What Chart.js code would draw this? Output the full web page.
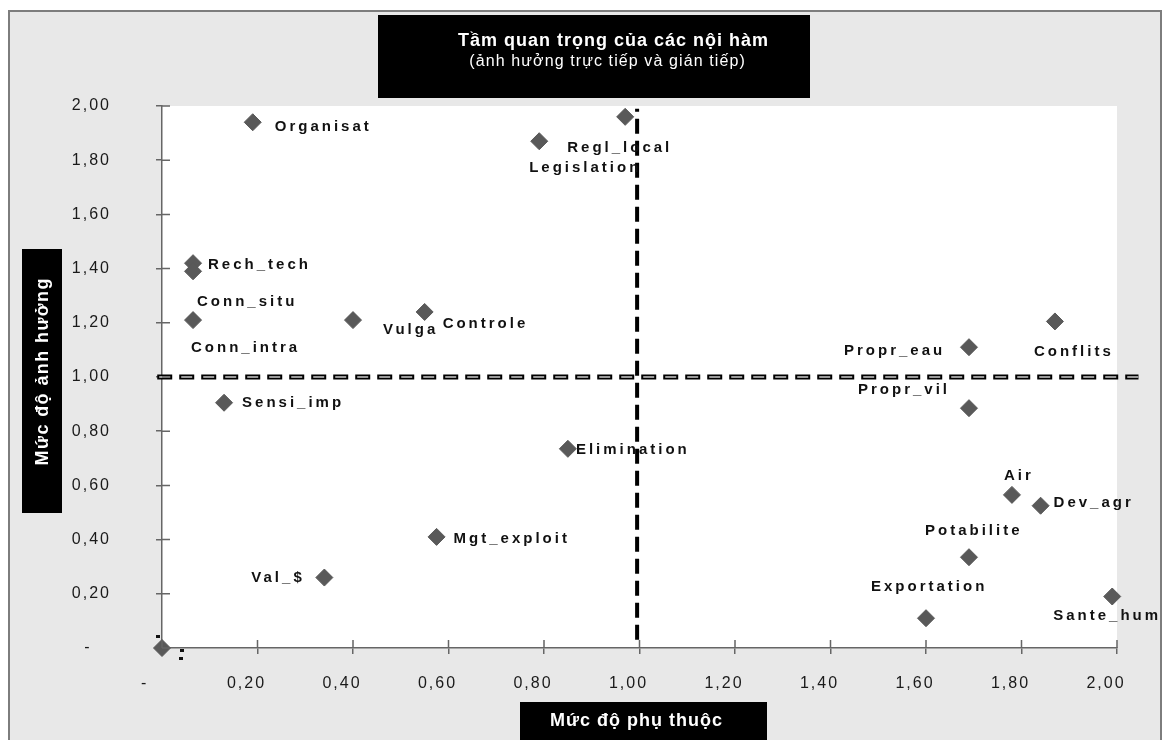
<!DOCTYPE html>
<html>
<head>
<meta charset="utf-8">
<script src="https://cdn.jsdelivr.net/npm/chart.js@4.4.1/dist/chart.umd.min.js"></script>
<style>
  html, body { margin: 0; padding: 0; background: #fff; }
  #wrap { width: 1170px; height: 740px; }
</style>
</head>
<body>
<div id="wrap"><canvas id="chart" width="1170" height="740"></canvas></div>
<script>
// variables
const names = ["Organisat", "Legislation", "Regl_local", "Rech_tech", "Conn_situ", "Conn_intra",
  "Vulga", "Controle", "Sensi_imp", "Elimination", "Mgt_exploit", "Val_$", "",
  "Propr_eau", "Conflits", "Propr_vil", "Air", "Dev_agr", "Potabilite", "Exportation", "Sante_hum"];
const dependence = [0.19, 0.97, 0.79, 0.065, 0.065, 0.065,
  0.40, 0.55, 0.13, 0.85, 0.575, 0.34, 0,
  1.69, 1.87, 1.69, 1.78, 1.84, 1.69, 1.60, 1.99];
const influence = [1.94, 1.96, 1.87, 1.42, 1.39, 1.21,
  1.21, 1.24, 0.905, 0.735, 0.41, 0.26, 0,
  1.11, 1.205, 0.885, 0.565, 0.525, 0.335, 0.11, 0.19];

// quadrant separators
const vLineX = [0.995, 0.995];
const vLineY = [0.03, 1.99];
const hLineX = [-0.01, 2.045];
const hLineY = [1, 1];

const axisMin = 0, axisMax = 2, axisStep = 0.2;

const titleText = "Tầm quan trọng của các nội hàm";
const subtitleText = "(ảnh hưởng trực tiếp và gián tiếp)";
const xTitle = "Mức độ phụ thuộc";
const yTitle = "Mức độ ảnh hưởng";

// where each label sits relative to its marker (left edge, middle)
const labelOffsets = {
  "Organisat": [22, 5], "Legislation": [-96, 51], "Regl_local": [28, 7],
  "Rech_tech": [15, 2], "Conn_situ": [4, 31], "Conn_intra": [-2, 28],
  "Vulga": [30, 10], "Controle": [18, 12], "Sensi_imp": [18, 0],
  "Elimination": [8, 1], "Mgt_exploit": [17, 2], "Val_$": [-73, 0],
  "Propr_eau": [-125, 4], "Conflits": [-21, 30], "Propr_vil": [-111, -18],
  "Air": [-8, -19], "Dev_agr": [13, -3], "Potabilite": [-44, -26],
  "Exportation": [-55, -31], "Sante_hum": [-59, 19]
};

const FONT = "'Liberation Sans', Arial, Helvetica, sans-serif";
Chart.defaults.font.family = FONT;

function fmt(v) {
  return v.toFixed(2).replace(".", ",");
}

function text(ctx, str, x, y, font, spacing, align, color) {
  ctx.save();
  ctx.font = font;
  ctx.letterSpacing = spacing + "px";
  ctx.textAlign = align;
  ctx.textBaseline = "middle";
  ctx.fillStyle = color;
  ctx.fillText(str, align === "center" ? x + spacing / 2 : x, y);
  ctx.restore();
}

const decor = {
  id: "decor",
  beforeDraw(chart) {
    const { ctx, chartArea: a, width, height } = chart;
    ctx.save();
    ctx.fillStyle = "#fff";
    ctx.fillRect(0, 0, width, height);
    ctx.fillStyle = "#e8e8e8";
    ctx.fillRect(9, 11, width - 18, height);
    ctx.strokeStyle = "#7d7d7d";
    ctx.lineWidth = 2;
    ctx.strokeRect(9, 11, width - 18, height + 10);
    ctx.fillStyle = "#fff";
    ctx.fillRect(a.left, a.top, a.right - a.left, a.bottom - a.top);
    ctx.restore();
    // tick labels in the picture are letter-spaced
    ctx.letterSpacing = "2px";
  },
  afterDatasetsDraw(chart) {
    const { ctx } = chart;
    const meta = chart.getDatasetMeta(0);
    meta.data.forEach((pt, i) => {
      const name = names[i];
      if (name) {
        const off = labelOffsets[name] || [12, 0];
        text(ctx, name, pt.x + off[0], pt.y + off[1], "bold 15px " + FONT, 3, "left", "#111");
      } else {
        // small dash marks round the zero point
        ctx.save();
        ctx.fillStyle = "#111";
        ctx.fillRect(pt.x - 6, pt.y - 13, 4, 3);
        ctx.fillRect(pt.x + 18, pt.y + 1, 4, 3);
        ctx.fillRect(pt.x + 17, pt.y + 9, 4, 3);
        ctx.restore();
      }
    });
  },
  afterDraw(chart) {
    const { ctx, chartArea: a, scales } = chart;
    ctx.save();
    ctx.letterSpacing = "0px";
    // inner half of the crossing tick marks
    ctx.strokeStyle = "#666";
    ctx.lineWidth = 1.5;
    ctx.beginPath();
    scales.x.ticks.forEach((t, i) => {
      const px = scales.x.getPixelForTick(i);
      ctx.moveTo(px, a.bottom);
      ctx.lineTo(px, a.bottom - 8);
    });
    scales.y.ticks.forEach((t, i) => {
      const py = scales.y.getPixelForTick(i);
      ctx.moveTo(a.left, py);
      ctx.lineTo(a.left + 8, py);
    });
    ctx.stroke();

    // title box
    ctx.fillStyle = "#000";
    ctx.fillRect(378, 15, 432, 83);
    text(ctx, titleText, 613, 41, "bold 18px " + FONT, 1, "center", "#fff");
    text(ctx, subtitleText, 607, 62, "16px " + FONT, 1.1, "center", "#fff");

    // x title box
    ctx.fillStyle = "#000";
    ctx.fillRect(520, 702, 247, 50);
    text(ctx, xTitle, 636, 721, "bold 18px " + FONT, 1, "center", "#fff");

    // y title box
    ctx.fillStyle = "#000";
    ctx.fillRect(22, 249, 40, 264);
    ctx.save();
    ctx.translate(43, 372);
    ctx.rotate(-Math.PI / 2);
    text(ctx, yTitle, 0, 0, "bold 18px " + FONT, 1.4, "center", "#fff");
    ctx.restore();
    ctx.restore();
  }
};

const points = dependence.map((x, i) => ({ x: x, y: influence[i] }));
const vLine = vLineX.map((x, i) => ({ x: x, y: vLineY[i] }));
const hLine = hLineX.map((x, i) => ({ x: x, y: hLineY[i] }));

const tickFont = { size: 16, family: FONT };

new Chart(document.getElementById("chart"), {
  type: "scatter",
  data: {
    datasets: [
      {
        label: "Variables",
        data: points,
        pointStyle: "rectRot",
        pointRadius: 8.5,
        pointBackgroundColor: "#595959",
        pointBorderColor: "#595959",
        pointBorderWidth: 1,
        clip: false,
        order: 0
      },
      {
        type: "line",
        data: hLine,
        borderColor: "#000",
        borderWidth: 5,
        borderDash: [15, 7],
        pointRadius: 0,
        clip: false,
        order: 3
      },
      {
        type: "line",
        data: hLine,
        borderColor: "#fff",
        borderWidth: 1.2,
        borderDash: [11, 11],
        borderDashOffset: -2,
        pointRadius: 0,
        clip: false,
        order: 2
      },
      {
        type: "line",
        data: vLine,
        borderColor: "#000",
        borderWidth: 4,
        borderDash: [15, 7],
        pointRadius: 0,
        clip: false,
        order: 1
      }
    ]
  },
  options: {
    responsive: false,
    animation: false,
    devicePixelRatio: 1,
    layout: { padding: { left: 0, top: 106, right: 53, bottom: 0 } },
    plugins: {
      legend: { display: false },
      tooltip: { enabled: false },
      title: { display: false }
    },
    scales: {
      x: {
        type: "linear",
        position: "bottom",
        min: axisMin,
        max: axisMax,
        afterFit(s) { s.height = 92; },
        border: { color: "#666", width: 1.5 },
        grid: { drawOnChartArea: false, color: "#666", lineWidth: 1.5, tickLength: 6 },
        ticks: {
          stepSize: axisStep,
          padding: 20,
          labelOffset: -11,
          color: "#1a1a1a",
          font: tickFont,
          maxRotation: 0,
          callback: v => (v === 0 ? "-  " : fmt(v))
        }
      },
      y: {
        type: "linear",
        min: axisMin,
        max: axisMax,
        afterFit(s) { s.width = 162; },
        border: { color: "#666", width: 1.5 },
        grid: { drawOnChartArea: false, color: "#666", lineWidth: 1.5, tickLength: 6 },
        ticks: {
          stepSize: axisStep,
          padding: 45,
          color: "#1a1a1a",
          font: tickFont,
          callback: v => (v === 0 ? "-   " : fmt(v))
        }
      }
    }
  },
  plugins: [decor]
});
</script>
</body>
</html>
